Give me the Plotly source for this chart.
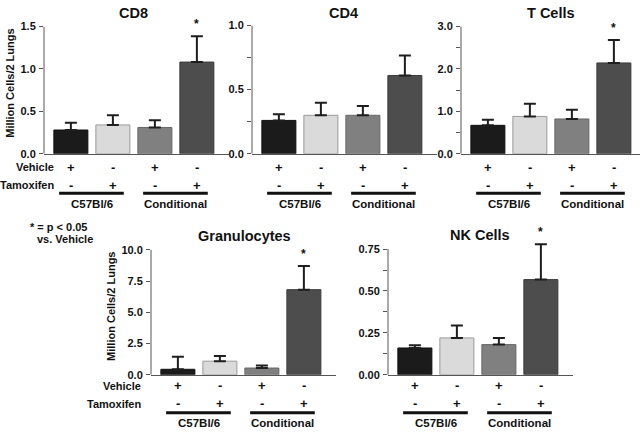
import plotly.graph_objects as go

# ---------------- data ----------------
categories = ["C57Bl/6 Vehicle", "C57Bl/6 Tamoxifen", "Conditional Vehicle", "Conditional Tamoxifen"]
vehicle_marks = ["+", "-", "+", "-"]
tamoxifen_marks = ["-", "+", "-", "+"]
group_labels = ["C57Bl/6", "Conditional"]

panel_titles = ["CD8", "CD4", "T Cells", "Granulocytes", "NK Cells"]

cd8_mean = [0.28, 0.34, 0.31, 1.08]
cd8_err = [0.085, 0.115, 0.085, 0.305]
cd4_mean = [0.26, 0.30, 0.30, 0.61]
cd4_err = [0.048, 0.097, 0.072, 0.155]
tcell_mean = [0.67, 0.88, 0.82, 2.14]
tcell_err = [0.13, 0.30, 0.22, 0.54]
gran_mean = [0.44, 1.09, 0.54, 6.81]
gran_err = [1.01, 0.41, 0.21, 1.89]
nk_mean = [0.160, 0.220, 0.180, 0.568]
nk_err = [0.016, 0.074, 0.040, 0.211]

significant = [
    [False, False, False, True],
    [False, False, False, False],
    [False, False, False, True],
    [False, False, False, True],
    [False, False, False, True],
]

y_title = "Million Cells/2 Lungs"
footnote_lines = ["* = p < 0.05", "vs. Vehicle"]

# ---------------- styling / layout ----------------
W, H = 640, 433
bar_fill = ["#1b1b1b", "#dadada", "#808080", "#4d4d4d"]
bar_line = ["#111111", "#9a9a9a", "#666666", "#3c3c3c"]
FONT = "Liberation Sans, Arial, Helvetica, sans-serif"
AXC = "#555555"

means = [cd8_mean, cd4_mean, tcell_mean, gran_mean, nk_mean]
errs = [cd8_err, cd4_err, tcell_err, gran_err, nk_err]

# y0/top are pixel rows of value 0 and of the axis top value (ymax); yrange = plotted range top
panels = [
    dict(left=44, y0=152, top=21, ymax=1.5, yrange=1.5, dtick=0.5, minor=None, fmt=".1f",
         rows=(166, 184.3, 192.7, 203.5), rowlabel_x=56, ytitle=(10, 80)),
    dict(left=252, y0=152, top=20, ymax=1.0, yrange=1.0, dtick=0.5, minor=0.25, fmt=".1f",
         rows=(166, 184.3, 192.7, 203.5), rowlabel_x=None, ytitle=None),
    dict(left=461, y0=152, top=21, ymax=3.0, yrange=3.0, dtick=1.0, minor=0.5, fmt=".1f",
         rows=(166, 184.3, 192.7, 203.5), rowlabel_x=None, ytitle=None),
    dict(left=151, y0=379.3, top=250.7, ymax=10.0, yrange=10.0, dtick=2.5, minor=None, fmt=".1f",
         rows=(390.7, 409.3, 418.3, 429), rowlabel_x=143, ytitle=(111.5, 309)),
    dict(left=388, y0=379.3, top=250, ymax=0.75, yrange=0.80, dtick=0.25, minor=0.125, fmt=".2f",
         rows=(390.7, 409.3, 418.3, 429), rowlabel_x=None, ytitle=None),
]
title_pos = [(133, 7), (343, 7), (551, 7), (244, 237), (480, 236)]

UNIT = 42.0
XMIN = -0.64
XSPAN = 4.4


def px(x):
    return x / W


def py(y):
    return 1 - y / H


def bold(size):
    return dict(family=FONT, size=size, color="#111", weight="bold")


fig = go.Figure()
annotations = []
shapes = []
xpos = list(range(len(categories)))

for i, (p, m, e) in enumerate(zip(panels, means, errs)):
    n = "" if i == 0 else str(i + 1)
    xa, ya = "x" + n, "y" + n
    right_px = min(p["left"] + XSPAN * UNIT, W)
    xmax = XMIN + (right_px - p["left"]) / UNIT
    scale = (p["y0"] - p["top"]) / p["ymax"]
    top_px = p["y0"] - p["yrange"] * scale

    fig.add_trace(go.Bar(
        x=xpos, y=m, xaxis=xa, yaxis=ya, width=0.81,
        marker=dict(color=bar_fill, line=dict(color=bar_line, width=1)),
        error_y=dict(type="data", array=e, arrayminus=[0] * len(e), symmetric=False,
                     color="#1e1e1e", thickness=2, width=6),
        hovertext=categories, showlegend=False,
    ))

    fig.layout["xaxis" + n] = dict(
        domain=[px(p["left"]), px(right_px)], anchor=ya, range=[XMIN, xmax],
        showline=True, linecolor=AXC, linewidth=1, ticks="", showticklabels=False,
        showgrid=False, zeroline=False, fixedrange=True,
    )
    yax = dict(
        domain=[py(p["y0"]), py(top_px)], anchor=xa, range=[0, p["yrange"]],
        showline=False, ticks="outside", ticklen=4,
        tickcolor=AXC, tickwidth=1, dtick=p["dtick"], tick0=0, tickformat=p["fmt"],
        tickfont=bold(11), showgrid=False, zeroline=False, fixedrange=True,
        ticklabelstandoff=1,
    )
    if p["minor"]:
        yax["minor"] = dict(dtick=p["minor"], tick0=0, ticks="outside", ticklen=4,
                            tickcolor=AXC, tickwidth=1, showgrid=False)
    fig.layout["yaxis" + n] = yax
    # y axis line from 0 to the axis top value
    shapes.append(dict(type="line", xref=xa + " domain", yref=ya, x0=0, x1=0,
                       y0=0, y1=p["ymax"], line=dict(color=AXC, width=1)))

    # title
    tx, ty = title_pos[i]
    annotations.append(dict(text=panel_titles[i], xref="paper", yref="paper",
                            x=px(tx), y=py(ty), xanchor="center", yanchor="middle",
                            showarrow=False, font=bold(14.5)))

    # significance stars
    for j, sig in enumerate(significant[i]):
        if sig:
            annotations.append(dict(text="*", xref=xa, yref=ya, x=xpos[j], y=m[j] + e[j],
                                    xanchor="center", yanchor="bottom", yshift=3,
                                    showarrow=False, font=bold(12)))

    vy, ty_, ly, gy = p["rows"]
    for j in range(len(categories)):
        annotations.append(dict(text=vehicle_marks[j], xref=xa, yref="paper", x=xpos[j], y=py(vy),
                                xanchor="center", yanchor="middle", showarrow=False, font=bold(13)))
        annotations.append(dict(text=tamoxifen_marks[j], xref=xa, yref="paper", x=xpos[j], y=py(ty_),
                                xanchor="center", yanchor="middle", showarrow=False, font=bold(13)))
    for g, label in enumerate(group_labels):
        c = 0.5 + 2 * g
        shapes.append(dict(type="line", xref=xa, yref="paper", x0=c - 0.78, x1=c + 0.76,
                           y0=py(ly), y1=py(ly), line=dict(color="#111", width=3)))
        annotations.append(dict(text=label, xref=xa, yref="paper", x=c, y=py(gy),
                                xanchor="center", yanchor="middle", showarrow=False,
                                font=bold(11.5)))

    if p["rowlabel_x"] is not None:
        for lab, yy in (("Vehicle", vy), ("Tamoxifen", ty_)):
            annotations.append(dict(text=lab, xref="paper", yref="paper", x=px(p["rowlabel_x"]),
                                    y=py(yy), xanchor="right", yanchor="middle",
                                    showarrow=False, font=bold(11)))
    if p["ytitle"] is not None:
        ax_, ay_ = p["ytitle"]
        annotations.append(dict(text=y_title, xref="paper", yref="paper", x=px(ax_), y=py(ay_),
                                xanchor="center", yanchor="middle", textangle=-90,
                                showarrow=False, font=bold(11)))

# footnote
annotations.append(dict(text=footnote_lines[0], xref="paper", yref="paper", x=px(28), y=py(227),
                        xanchor="left", yanchor="middle", showarrow=False, font=bold(11)))
annotations.append(dict(text=footnote_lines[1], xref="paper", yref="paper", x=px(35), y=py(240),
                        xanchor="left", yanchor="middle", showarrow=False, font=bold(11)))

fig.update_layout(
    width=W, height=H, margin=dict(l=0, r=0, t=0, b=0),
    paper_bgcolor="white", plot_bgcolor="white",
    annotations=annotations, shapes=shapes, bargap=0.2,
    font=dict(family=FONT, color="#111"),
)

fig.write_html("out.html", config={"displayModeBar": False},
               post_script="document.body.style.margin='0px';document.body.style.overflow='hidden';")
